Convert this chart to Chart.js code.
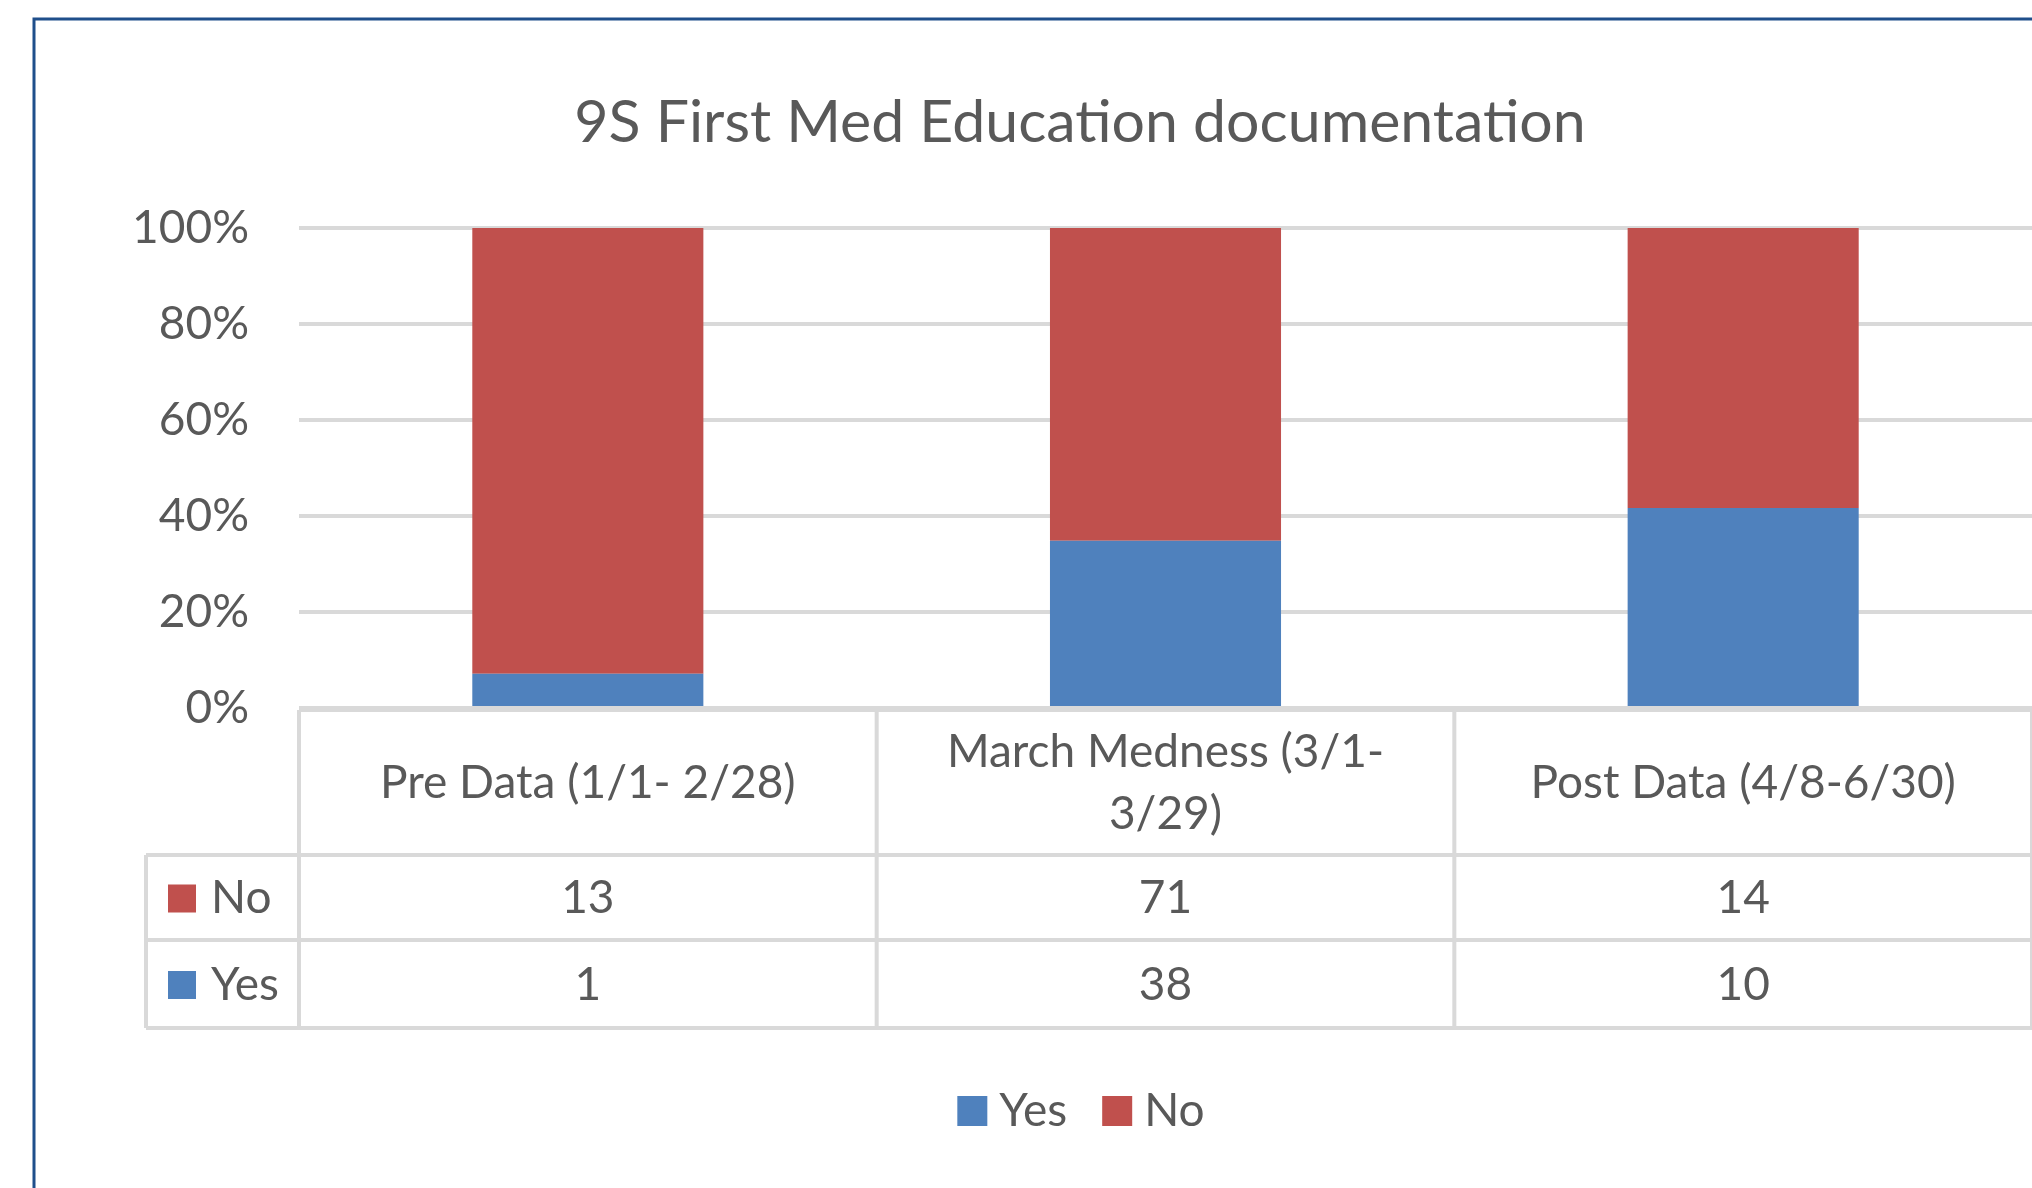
<!DOCTYPE html>
<html>
<head>
<meta charset="utf-8">
<script src="https://cdn.jsdelivr.net/npm/chart.js@4/dist/chart.umd.min.js"></script>
<style>
  html, body { margin: 0; padding: 0; background: #fff; }
  #wrap { position: relative; width: 2032px; height: 1188px; }
</style>
</head>
<body>
<div id="wrap"><canvas id="medChart" width="2032" height="1188"></canvas></div>
<script>
// data
const chartTitle = '9S First Med Education documentation';
const categories = ['Pre Data (1/1- 2/28)', 'March Medness (3/1-3/29)', 'Post Data (4/8-6/30)'];
const headerLines = [['Pre Data (1/1- 2/28)'], ['March Medness (3/1-', '3/29)'], ['Post Data (4/8-6/30)']];
const yesCounts = [1, 38, 10];
const noCounts = [13, 71, 14];
const yTickValues = [0, 20, 40, 60, 80, 100];

const TEXT = '#595959';
const GRID = '#d9d9d9';
const YES_COLOR = '#4f81bd';
const NO_COLOR = '#c0504d';
const FONT = 'Lato, "Open Sans", sans-serif';
const BODY_SIZE = 46;

// 100% stacked: share of each category total
const totals = yesCounts.map((v, i) => v + noCounts[i]);
const yesShare = yesCounts.map((v, i) => v / totals[i] * 100);
const noShare = noCounts.map((v, i) => v / totals[i] * 100);

// rows of the data table under the axis (Excel lists No first)
const tableRows = [
  { label: 'No', color: NO_COLOR, values: noCounts },
  { label: 'Yes', color: YES_COLOR, values: yesCounts }
];

const extras = {
  id: 'extras',
  beforeDraw(chart) {
    const c = chart.ctx;
    c.save();
    c.fillStyle = '#fff';
    c.fillRect(0, 0, chart.width, chart.height);
    // outer frame, only top/left visible in the crop
    c.strokeStyle = '#1f4f8b';
    c.lineWidth = 3;
    c.beginPath();
    c.moveTo(34, chart.height);
    c.lineTo(34, 19);
    c.lineTo(chart.width, 19);
    c.stroke();
    // title
    c.fillStyle = TEXT;
    c.font = '59px ' + FONT;
    c.textAlign = 'center';
    c.textBaseline = 'middle';
    c.fillText(chartTitle, 1080, 123);
    c.restore();
  },
  afterDraw(chart) {
    const c = chart.ctx;
    const area = chart.chartArea;
    const xs = chart.scales.x;
    const colW = (area.right - area.left) / categories.length;
    const top = area.bottom + 2;
    const rowEdges = [top, 855, 940, 1028];
    const labelLeft = 146;
    const right = chart.width + 4;

    c.save();
    c.strokeStyle = GRID;
    c.lineWidth = 4;
    c.beginPath();
    c.moveTo(area.left, rowEdges[0]);
    c.lineTo(right, rowEdges[0]);
    for (let r = 1; r < rowEdges.length; r++) {
      c.moveTo(labelLeft, rowEdges[r]);
      c.lineTo(right, rowEdges[r]);
    }
    c.moveTo(labelLeft, rowEdges[1]);
    c.lineTo(labelLeft, rowEdges[3]);
    categories.forEach((cat, i) => {
      const cx = xs.getPixelForValue(i);
      [cx - colW / 2, cx + colW / 2].forEach(bx => {
        c.moveTo(bx, rowEdges[0]);
        c.lineTo(bx, rowEdges[3]);
      });
    });
    c.stroke();

    c.fillStyle = TEXT;
    c.font = BODY_SIZE + 'px ' + FONT;
    c.textAlign = 'center';
    c.textBaseline = 'middle';
    const headMid = (rowEdges[0] + rowEdges[1]) / 2 + 1;
    headerLines.forEach((lines, i) => {
      const cx = xs.getPixelForValue(i);
      const lh = 62;
      lines.forEach((ln, k) => {
        c.fillText(ln, cx, headMid + (k - (lines.length - 1) / 2) * lh);
      });
    });

    tableRows.forEach((row, r) => {
      const cy = (rowEdges[r + 1] + rowEdges[r + 2]) / 2 + 1;
      row.values.forEach((v, i) => {
        c.fillStyle = TEXT;
        c.textAlign = 'center';
        c.fillText(String(v), xs.getPixelForValue(i), cy);
      });
      c.fillStyle = row.color;
      c.fillRect(168, cy - 14, 28, 28);
      c.fillStyle = TEXT;
      c.textAlign = 'left';
      c.fillText(row.label, 211, cy);
    });

    // legend below the table
    const box = 30, gapIn = 12, gapOut = 35;
    const items = chart.data.datasets.map(ds => ({ text: ds.label, color: ds.backgroundColor }));
    let total = 0;
    items.forEach((it, k) => {
      it.w = c.measureText(it.text).width;
      total += box + gapIn + it.w + (k < items.length - 1 ? gapOut : 0);
    });
    let lx = 1081 - total / 2;
    const ly = 1111;
    items.forEach(it => {
      c.fillStyle = it.color;
      c.fillRect(lx, ly - box / 2, box, box);
      lx += box + gapIn;
      c.fillStyle = TEXT;
      c.textAlign = 'left';
      c.fillText(it.text, lx, ly);
      lx += it.w + gapOut;
    });
    c.restore();
  }
};

new Chart(document.getElementById('medChart'), {
  type: 'bar',
  data: {
    labels: categories,
    datasets: [
      { label: 'Yes', data: yesShare, backgroundColor: YES_COLOR, barPercentage: 0.4, categoryPercentage: 1 },
      { label: 'No', data: noShare, backgroundColor: NO_COLOR, barPercentage: 0.4, categoryPercentage: 1 }
    ]
  },
  options: {
    responsive: false,
    animation: false,
    layout: { padding: { left: 0, right: -3, top: 228, bottom: 480 } },
    plugins: {
      legend: { display: false },
      title: { display: false },
      tooltip: { enabled: false }
    },
    scales: {
      x: {
        stacked: true,
        display: false
      },
      y: {
        stacked: true,
        min: 0,
        max: 100,
        afterFit(scale) { scale.width = 299; },
        afterBuildTicks(scale) { scale.ticks = yTickValues.map(v => ({ value: v })); },
        border: { display: false },
        grid: { color: GRID, lineWidth: 4, drawTicks: false },
        ticks: {
          color: TEXT,
          padding: 50,
          font: { family: FONT, size: BODY_SIZE },
          callback: v => v + '%'
        }
      }
    }
  },
  plugins: [extras]
});
</script>
</body>
</html>
